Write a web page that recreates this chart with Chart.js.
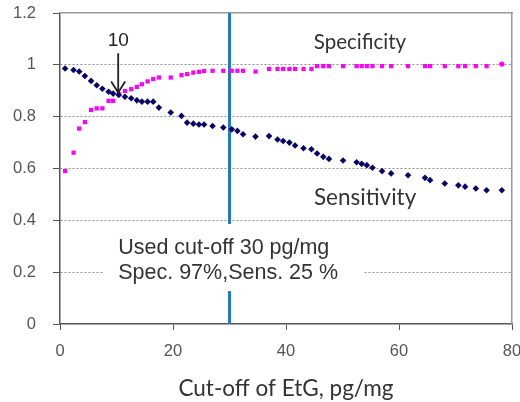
<!DOCTYPE html>
<html><head><meta charset="utf-8">
<script src="https://cdn.jsdelivr.net/npm/chart.js@4.4.0/dist/chart.umd.min.js"></script>
<style>html,body{margin:0;padding:0;background:#fff}</style>
</head><body>
<canvas id="c" width="520" height="402"></canvas>
<script>
// ---- data ----
const cutoffs = [0.9, 2.4, 3.4, 4.4, 5.5, 6.5, 7.5, 8.6, 9.4, 10.4,
  11.5, 12.6, 13.6, 14.5, 15.5, 16.5, 17.5, 19.6, 21.5, 22.5,
  23.6, 24.6, 25.5, 27.0, 28.9, 30.4, 31.4, 32.4, 34.6, 37.0,
  38.5, 39.5, 40.6, 41.6, 43.1, 44.5, 45.5, 46.6, 47.6, 50.1,
  52.5, 53.4, 54.3, 55.3, 57.0, 58.6, 61.6, 64.6, 65.5, 68.1,
  70.5, 71.7, 73.6, 75.5, 78.2];
const sensitivity = [0.986, 0.980, 0.974, 0.957, 0.938, 0.921, 0.908, 0.896, 0.889, 0.884,
  0.877, 0.871, 0.863, 0.858, 0.858, 0.858, 0.835, 0.816, 0.803, 0.777,
  0.773, 0.770, 0.770, 0.764, 0.758, 0.751, 0.745, 0.732, 0.723, 0.725,
  0.712, 0.706, 0.700, 0.689, 0.678, 0.674, 0.658, 0.645, 0.637, 0.631,
  0.624, 0.618, 0.613, 0.603, 0.590, 0.581, 0.574, 0.564, 0.555, 0.542,
  0.535, 0.530, 0.523, 0.516, 0.516];
const specificity = [0.590, 0.661, 0.754, 0.779, 0.826, 0.832, 0.832, 0.861, 0.861, 0.887,
  0.899, 0.906, 0.915, 0.925, 0.936, 0.945, 0.951, 0.951, 0.960, 0.964,
  0.970, 0.973, 0.976, 0.977, 0.977, 0.977, 0.977, 0.977, 0.974, 0.984,
  0.984, 0.984, 0.984, 0.984, 0.984, 0.984, 0.995, 0.995, 0.995, 0.995,
  0.995, 0.995, 0.995, 0.995, 0.995, 0.995, 0.995, 0.995, 0.995, 0.995,
  0.995, 0.995, 0.995, 0.995, 1.003];
const xTicks = [0, 20, 40, 60, 80];
const yTicks = [0, 0.2, 0.4, 0.6, 0.8, 1, 1.2];
const usedCutoff = 30;
const crossingLabel = '10';
const seriesLabels = ['Sensitivity', 'Specificity'];
const boxLines = ['Used cut-off 30 pg/mg', 'Spec. 97%,Sens. 25 %'];
const xTitle = 'Cut-off of EtG, pg/mg';

// ---- annotation placement (data coordinates) ----
const notes = {
  spec: { x: 53.1, y: 1.088 },
  sens: { x: 54.0, y: 0.486 },
  ten: { x: 10.3, y: 1.092 },
  arrow: { x: 10.3, y1: 1.045, y2: 0.893 },
  box: { x1: 7.6, x2: 53.8, y1: 0.386, y2: 0.127 },
  lines: { x: 10.3, y: [0.293, 0.197] }
};

const toXY = (xs, ys) => xs.map((x, i) => ({ x: x, y: ys[i] }));

const annot = {
  id: 'annot',
  afterDatasetsDraw(chart) {
    const { ctx, scales: { x, y } } = chart;
    const px = v => x.getPixelForValue(v), py = v => y.getPixelForValue(v);
    ctx.save();
    ctx.fillStyle = '#ffffff';
    const b = notes.box;
    ctx.fillRect(px(b.x1), py(b.y1), px(b.x2) - px(b.x1), py(b.y2) - py(b.y1));
    ctx.fillStyle = '#333333';
    ctx.textBaseline = 'middle';
    ctx.textAlign = 'left';
    ctx.font = '21.5px "Liberation Sans", Arial, sans-serif';
    boxLines.forEach((t, i) => ctx.fillText(t, px(notes.lines.x), py(notes.lines.y[i])));
    ctx.textAlign = 'center';
    ctx.font = '20.5px Lato, sans-serif';
    ctx.fillText(seriesLabels[1], px(notes.spec.x), py(notes.spec.y));
    ctx.font = '22.5px Lato, sans-serif';
    ctx.fillText(seriesLabels[0], px(notes.sens.x), py(notes.sens.y));
    ctx.font = '19px "Liberation Sans", Arial, sans-serif';
    ctx.fillStyle = '#222';
    ctx.fillText(crossingLabel, px(notes.ten.x), py(notes.ten.y));
    const ax = px(notes.arrow.x), ay1 = py(notes.arrow.y1), ay2 = py(notes.arrow.y2);
    ctx.strokeStyle = '#222';
    ctx.lineWidth = 1.8;
    ctx.beginPath();
    ctx.moveTo(ax, ay1); ctx.lineTo(ax, ay2);
    ctx.moveTo(ax - 7, ay2 - 11); ctx.lineTo(ax, ay2); ctx.lineTo(ax + 7, ay2 - 11);
    ctx.stroke();
    ctx.restore();
  }
};

new Chart(document.getElementById('c'), {
  type: 'scatter',
  data: {
    datasets: [
      {
        label: 'Cut-off line',
        data: [{ x: usedCutoff, y: 0 }, { x: usedCutoff, y: 1.2 }],
        showLine: true,
        borderColor: '#1f7bc4',
        borderWidth: 3,
        pointRadius: 0,
        order: 3
      },
      {
        label: seriesLabels[1],
        data: toXY(cutoffs, specificity),
        pointStyle: c => (c.dataIndex === specificity.length - 1 ? 'circle' : 'rect'),
        pointRadius: c => (c.dataIndex === specificity.length - 1 ? 2.6 : 3),
        backgroundColor: '#ff00ff',
        borderColor: '#ff00ff',
        borderWidth: 0,
        order: 2
      },
      {
        label: seriesLabels[0],
        data: toXY(cutoffs, sensitivity),
        pointStyle: 'rectRot',
        pointRadius: 3.3,
        backgroundColor: '#06066e',
        borderColor: '#06066e',
        borderWidth: 0,
        order: 1
      }
    ]
  },
  options: {
    responsive: false,
    animation: false,
    devicePixelRatio: 1,
    layout: { padding: 0 },
    plugins: { legend: { display: false }, tooltip: { enabled: false } },
    scales: {
      x: {
        type: 'linear', position: 'bottom', min: 0, max: 80,
        afterBuildTicks: s => { s.ticks = xTicks.map(v => ({ value: v })); },
        afterFit: s => { s.height = 78; s.paddingLeft = 0; s.paddingRight = 0; },
        ticks: { font: { family: '"Liberation Sans", Arial, sans-serif', size: 16.5 }, color: '#555', padding: 12, maxRotation: 0 },
        grid: { drawOnChartArea: false, tickLength: 6, tickColor: '#555', tickWidth: 1 },
        border: { color: '#555', width: 1.5 },
        title: { display: true, text: xTitle, font: { family: 'Lato, sans-serif', size: 22.5 }, color: '#333', padding: { top: 0, bottom: 0 } }
      },
      y: {
        type: 'linear', position: 'left', min: 0, max: 1.2,
        afterBuildTicks: s => { s.ticks = yTicks.map(v => ({ value: v })); },
        afterFit: s => { s.width = 60; s.paddingTop = 0; s.paddingBottom = 0; },
        ticks: { font: { family: '"Liberation Sans", Arial, sans-serif', size: 16.5 }, color: '#555', padding: 17, callback: v => String(v) },
        grid: {
          color: c => (c.tick && (c.tick.value === 0 || c.tick.value === 1.2) ? 'rgba(0,0,0,0)' : '#8f8f8f'),
          lineWidth: 1, tickLength: 7, tickColor: '#555'
        },
        border: { color: '#555', width: 1.5, dash: [2, 2] }
      },
      xTop: {
        type: 'linear', position: 'top', min: 0, max: 80,
        afterFit: s => { s.height = 13; s.paddingLeft = 0; s.paddingRight = 0; },
        ticks: { display: false }, grid: { display: false },
        border: { color: '#9a9a9a', width: 1.5 }
      },
      yRight: {
        type: 'linear', position: 'right', min: 0, max: 1.2,
        afterFit: s => { s.width = 8; s.paddingTop = 0; s.paddingBottom = 0; },
        ticks: { display: false }, grid: { display: false },
        border: { color: '#9a9a9a', width: 1.5 }
      }
    }
  },
  plugins: [annot]
});
</script>
</body></html>
